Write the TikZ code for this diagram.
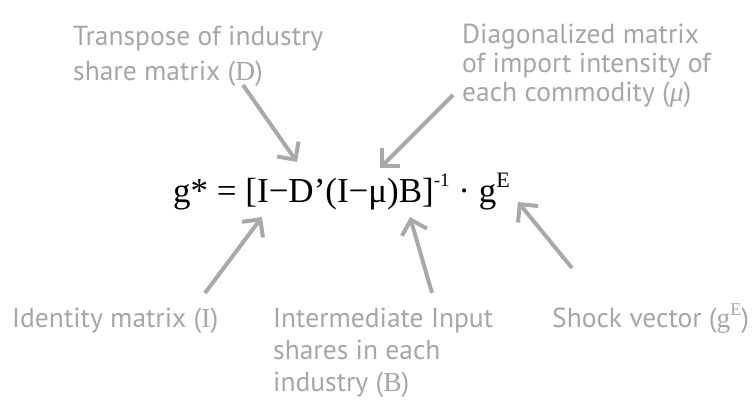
\documentclass[tikz,border=0pt]{standalone}
\usepackage{fontspec}
\setmainfont{PT Sans}
\newfontfamily\eqfont{Liberation Serif}
\usetikzlibrary{arrows.meta}
\definecolor{lbl}{HTML}{A6A6A6}
\definecolor{arr}{HTML}{A9A9A9}
\tikzset{
  lab/.style={text=lbl, font=\fontsize{27.5}{31}\selectfont, inner sep=0pt, anchor=base west, align=left},
  ptr/.style={draw=arr, line width=4pt, -{Straight Barb[length=13pt,width=26pt]}},
}
\newcommand{\sr}[1]{{\eqfont #1}}
\begin{document}
\begin{tikzpicture}[x=1pt,y=-1pt]
\useasboundingbox (0,0) rectangle (754,399);
\node[inner sep=0pt, anchor=base west, font=\eqfont\fontsize{35}{40}\selectfont] (eq) at (173,202)
  {g* = [I−D’(I−μ)B]\raisebox{0.45em}{\fontsize{19}{22}\selectfont -1} · g\raisebox{0.42em}{\fontsize{22}{24}\selectfont E}};
\node[lab, font=\fontsize{27.5}{35}\selectfont] (tr) at (73,80) {Transpose of industry\\share matrix (\sr{D})};
\node[lab, font=\fontsize{27.5}{29}\selectfont] (dg) at (462,101) {Diagonalized matrix\\of import intensity of\\each commodity (\sr{\itshape μ})};
\node[lab] (id) at (12,327) {Identity matrix (\sr{I})};
\node[lab, font=\fontsize{27.5}{32}\selectfont] (im) at (273,391) {Intermediate Input\\shares in each\\industry (\sr{B})};
\node[lab] (sh) at (552,327) {Shock vector (\sr{g\raisebox{0.42em}{\fontsize{18}{20}\selectfont E}})};
\coordinate (s1) at (243,85);  \coordinate (t1) at (297,162);
\coordinate (s2) at (453,95);  \coordinate (t2) at (380,168);
\coordinate (s3) at (205,293); \coordinate (t3) at (262,217);
\coordinate (s4) at (432,293); \coordinate (t4) at (410,217);
\coordinate (s5) at (572,268); \coordinate (t5) at (518,202);
\draw[ptr] (s1) -- (t1);
\draw[ptr] (s2) -- (t2);
\draw[ptr] (s3) -- (t3);
\draw[ptr] (s4) -- (t4);
\draw[ptr] (s5) -- (t5);
\end{tikzpicture}
\end{document}
